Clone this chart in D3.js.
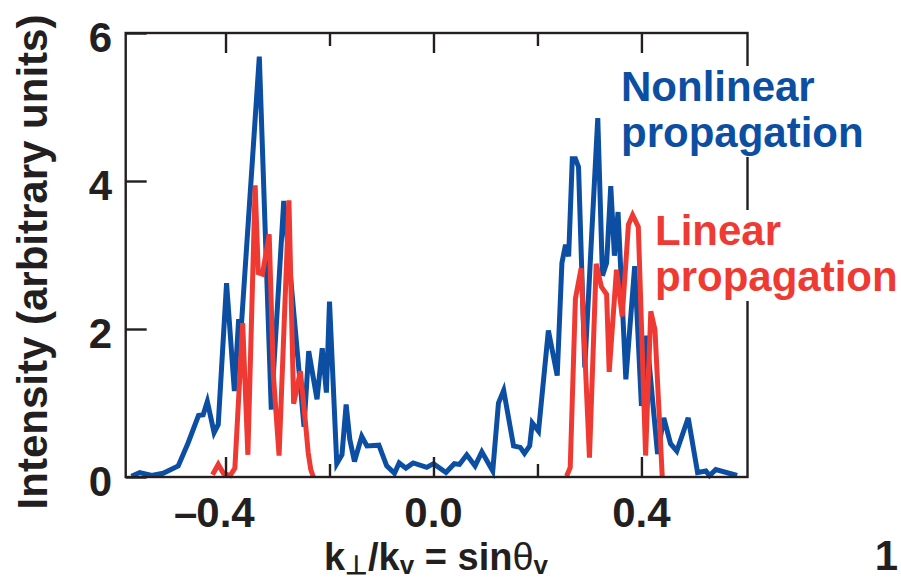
<!DOCTYPE html>
<html><head><meta charset="utf-8">
<script src="https://cdn.jsdelivr.net/npm/d3@7"></script>
<style>body{margin:0;background:#fff}svg{display:block}</style>
</head><body>
<svg id="c" width="901" height="583"></svg>
<script>
// ---- data ----
const nonlinearX = [-0.581,-0.565,-0.542,-0.520,-0.491,-0.472,-0.452,-0.443,-0.435,-0.422,-0.414,-0.398,-0.383,-0.375,-0.369,-0.335,-0.312,-0.288,-0.249,-0.240,-0.224,-0.214,-0.206,-0.200,-0.186,-0.176,-0.168,-0.161,-0.152,-0.138,-0.128,-0.105,-0.090,-0.075,-0.066,-0.053,-0.039,-0.013,0.000,0.024,0.040,0.050,0.064,0.080,0.093,0.114,0.125,0.135,0.154,0.167,0.175,0.185,0.190,0.202,0.221,0.238,0.247,0.254,0.260,0.267,0.273,0.279,0.291,0.316,0.325,0.333,0.341,0.348,0.355,0.370,0.387,0.400,0.410,0.431,0.443,0.456,0.468,0.490,0.508,0.524,0.531,0.543,0.584];
const nonlinearY = [0.01,0.06,0.02,0.05,0.15,0.46,0.83,0.84,1.02,0.60,0.71,2.62,1.16,2.10,2.10,5.68,0.91,3.73,0.68,1.70,1.05,1.74,1.14,2.37,0.18,0.30,0.98,0.51,0.21,0.55,0.42,0.43,0.15,0.05,0.19,0.12,0.19,0.13,0.18,0.06,0.18,0.17,0.30,0.15,0.34,0.08,1.00,1.17,0.42,0.40,0.32,0.42,0.73,0.62,1.98,1.37,2.89,3.14,2.98,4.30,4.30,4.19,1.48,4.85,2.72,2.89,3.93,2.99,3.58,1.32,2.85,0.96,1.91,0.31,0.80,0.45,0.35,0.80,0.06,0.08,0.02,0.10,0.02];
const linearLeftX = [-0.425,-0.414,-0.404,-0.391,-0.382,-0.367,-0.357,-0.343,-0.337,-0.329,-0.316,-0.308,-0.297,-0.278,-0.269,-0.256,-0.246,-0.241,-0.236,-0.231];
const linearLeftY = [0.03,0.17,0.05,0.02,0.12,2.08,0.30,3.94,2.76,2.74,3.28,1.38,0.29,3.74,0.99,1.43,0.72,0.33,0.10,0.00];
const linearRightX = [0.256,0.263,0.273,0.284,0.300,0.313,0.323,0.333,0.338,0.352,0.363,0.375,0.383,0.394,0.408,0.418,0.426,0.440];
const linearRightY = [0.01,0.13,2.41,2.82,0.26,2.88,2.57,2.47,1.42,2.80,2.17,3.41,3.54,3.38,0.29,2.24,1.99,0.01];
const xMajorTicks = [-0.4, 0.0, 0.4];
const xMinorTicks = [-0.2, 0.2];
const xTickLabels = ["0.4", "0.0", "0.4"];
const xTickSign = ["–", "", ""];
const yTicks = [0, 2, 4, 6];
const yTickLabels = ["0", "2", "4", "6"];
const nonlinearLabel = ["Nonlinear", "propagation"];
const linearLabel = ["Linear", "propagation"];

// ---- styles ----
const BLUE = "#0b4ea2", RED = "#ee3a33", INK = "#231f20";
const FONT = "'Liberation Sans', Arial, Helvetica, sans-serif";

const svg = d3.select("#c");
const L = 125.7, R = 747.5, T = 33, B = 477;
const x = d3.scaleLinear().domain([-0.592, 0.604]).range([L, R]);
const y = d3.scaleLinear().domain([0, 6]).range([B, T]);

const line = d3.line().x(d => x(d[0])).y(d => y(d[1]));
const zip = (a, b) => a.map((v, i) => [v, b[i]]);

// series
svg.append("path").datum(zip(nonlinearX, nonlinearY)).attr("d", line)
  .attr("fill", "none").attr("stroke", BLUE).attr("stroke-width", 5);
[zip(linearLeftX, linearLeftY), zip(linearRightX, linearRightY)].forEach(s => {
  svg.append("path").datum(s).attr("d", line)
    .attr("fill", "none").attr("stroke", RED).attr("stroke-width", 5);
});

// axes (ticks inward)
function styleAxis(g) {
  g.select(".domain").remove();
  g.selectAll(".tick line").attr("stroke", INK).attr("stroke-width", 2.4);
  g.selectAll(".tick text").remove();
}
svg.append("g").attr("transform", `translate(0,${B})`)
  .call(d3.axisBottom(x).tickValues(xMajorTicks).tickSize(-20)).call(styleAxis);
svg.append("g").attr("transform", `translate(0,${B})`)
  .call(d3.axisBottom(x).tickValues(xMinorTicks).tickSize(-13)).call(styleAxis);
svg.append("g").attr("transform", `translate(0,${T})`)
  .call(d3.axisTop(x).tickValues(xMajorTicks).tickSize(-20)).call(styleAxis);
svg.append("g").attr("transform", `translate(0,${T})`)
  .call(d3.axisTop(x).tickValues(xMinorTicks).tickSize(-13)).call(styleAxis);
svg.append("g").attr("transform", `translate(${L},0)`)
  .call(d3.axisLeft(y).tickValues(yTicks).tickSize(-21)).call(styleAxis);

// frame
svg.append("rect").attr("x", L).attr("y", T).attr("width", R - L).attr("height", B - T)
  .attr("fill", "none").attr("stroke", INK).attr("stroke-width", 2.4);

// tick labels
const tl = svg.append("g").attr("font-family", FONT).attr("font-weight", "bold")
  .attr("font-size", 42).attr("fill", INK);
xMajorTicks.forEach((v, i) => {
  const t = tl.append("text").attr("x", x(v)).attr("y", 527).attr("text-anchor", "middle").text(xTickLabels[i]);
  if (xTickSign[i]) {
    const w = t.node().getComputedTextLength();
    tl.append("text").attr("x", x(v) - w / 2 + 1).attr("y", 527).attr("text-anchor", "end").text(xTickSign[i]);
  }
});
yTicks.forEach((v, i) => {
  tl.append("text").attr("x", 112).attr("y", y(v) + 19).attr("text-anchor", "end").text(yTickLabels[i]);
});

// axis titles
tl.append("text").attr("transform", "translate(47,262) rotate(-90)")
  .attr("text-anchor", "middle").text("Intensity (arbitrary units)");
const xt = tl.append("text").attr("x", 436).attr("y", 570).attr("text-anchor", "middle")
  .attr("font-size", 38);
xt.append("tspan").text("k");
xt.append("tspan").attr("font-size", 26).attr("dy", 4).text("⊥");
xt.append("tspan").attr("dy", -4).text("/k");
xt.append("tspan").attr("font-size", 26).attr("dy", 4).text("v");
xt.append("tspan").attr("dy", -4).text(" = sin");
xt.append("tspan").attr("font-weight", "normal").text("θ");
xt.append("tspan").attr("font-size", 26).attr("dy", 4).text("v");
tl.append("text").attr("x", 898).attr("y", 570).attr("text-anchor", "end").text("1");

// legends with white background covering the frame
function legend(lines, x0, y0, color) {
  const g = svg.append("g");
  const t = g.append("text").attr("font-family", FONT).attr("font-weight", "bold")
    .attr("font-size", 42).attr("fill", color);
  lines.forEach((s, i) => t.append("tspan").attr("x", x0).attr("y", y0 + i * 46).text(s));
  const bb = t.node().getBBox();
  g.insert("rect", "text").attr("x", bb.x).attr("y", bb.y + 3).attr("width", bb.width + 2)
    .attr("height", bb.height - 2).attr("fill", "#fff");
}
legend(nonlinearLabel, 621, 101, BLUE);
legend(linearLabel, 655, 245, RED);
</script>
</body></html>
